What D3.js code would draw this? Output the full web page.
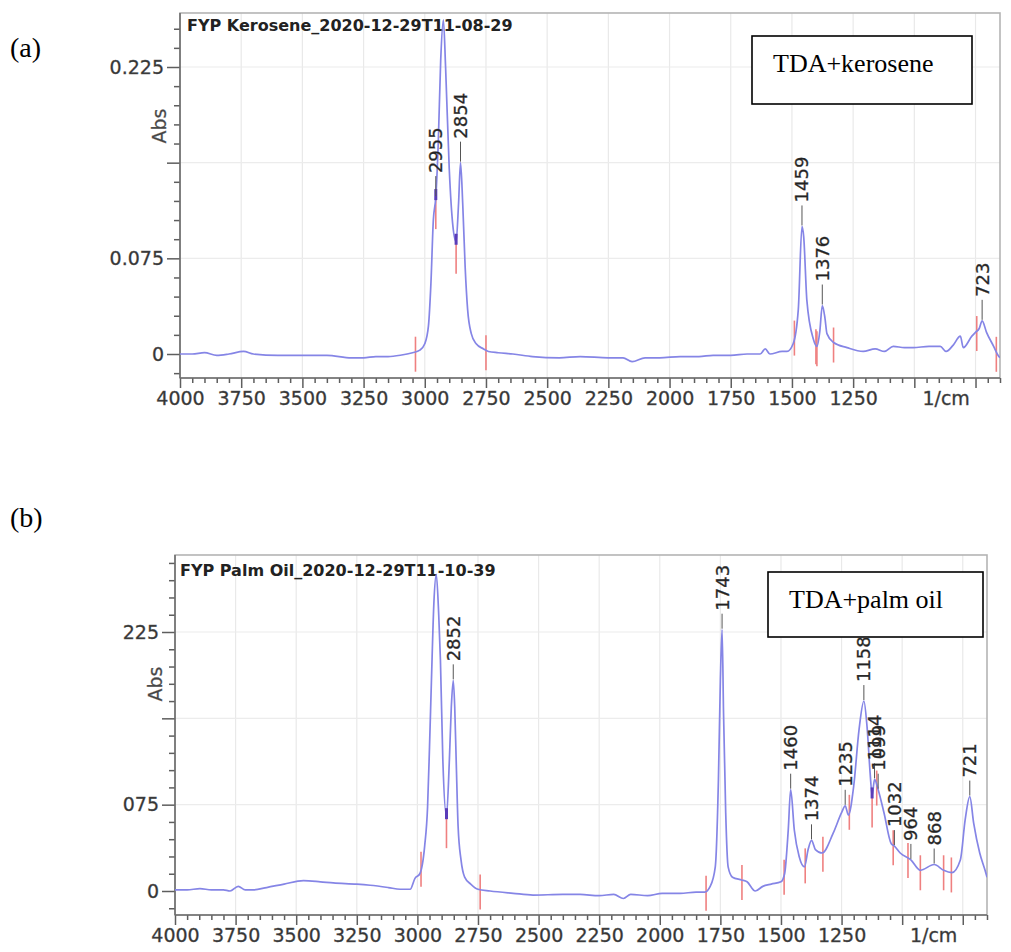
<!DOCTYPE html>
<html lang="en">
<head>
<meta charset="utf-8">
<title>FTIR spectra TDA</title>
<script src="https://d3js.org/d3.v7.min.js"></script>
<style>
  body{margin:0;background:#fff;}
  svg text{font-family:"DejaVu Sans",sans-serif;}
</style>
</head>
<body>
<div id="chart"></div>
<script>
// ---- (a) TDA + kerosene : wavenumber (1/cm) and absorbance
var keroWn = [4000,3950,3900,3850,3800,3740,3700,3600,3500,3400,
              3300,3250,3200,3150,3100,3050,3020,3000,2985,2975,
              2965,2955,2945,2935,2924,2915,2900,2885,2872,2862,
              2854,2845,2835,2825,2810,2790,2760,2740,2700,2640,
              2560,2450,2365,2250,2190,2153,2100,2040,1957,1880,
              1822,1750,1683,1630,1609,1590,1540,1520,1495,1474,
              1459,1452,1439,1413,1398,1386,1376,1365,1357,1330,
              1275,1209,1160,1122,1086,1040,1005,940,894,870,
              841,812,800,765,750,735,723,705,676,658,
              650]
var keroAbs = [0.000,0.000,0.001,-0.001,0.000,0.002,0.000,-0.001,-0.001,-0.001,
               -0.003,-0.003,-0.002,-0.002,-0.001,0.001,0.003,0.008,0.022,0.055,
               0.105,0.123,0.165,0.230,0.262,0.225,0.145,0.100,0.088,0.118,
               0.150,0.118,0.068,0.035,0.016,0.008,0.004,0.002,0.001,0.000,
               -0.002,-0.003,-0.002,-0.003,-0.003,-0.006,-0.003,-0.003,-0.002,-0.002,
               -0.001,-0.001,0.000,0.000,0.004,0.000,0.002,0.002,0.008,0.035,
               0.100,0.092,0.042,0.012,0.006,0.018,0.038,0.028,0.016,0.009,
               0.005,0.002,0.004,0.002,0.006,0.005,0.005,0.006,0.006,0.002,
               0.007,0.014,0.005,0.014,0.017,0.020,0.026,0.017,0.006,-0.001,
               -0.003]
var keroPeaks = [2955,2854,1459,1376,723]
var keroMarks = [3038,2750,1490,1402,1398,1330,745,665]
var keroDips = [2955,2872]

// ---- (b) TDA + palm oil
var palmWn = [4000,3950,3897,3850,3800,3773,3739,3710,3677,3622,
              3550,3470,3400,3347,3250,3195,3120,3071,3030,3010,
              2990,2970,2958,2950,2942,2932,2922,2912,2905,2895,
              2880,2868,2860,2852,2846,2840,2832,2820,2805,2780,
              2750,2700,2605,2523,2400,2329,2250,2190,2150,2120,
              2050,1990,1916,1850,1815,1792,1771,1758,1750,1743,
              1737,1728,1718,1700,1662,1640,1606,1575,1540,1500,
              1485,1470,1460,1445,1425,1403,1388,1374,1358,1330,
              1285,1250,1235,1222,1200,1178,1158,1145,1132,1124,
              1114,1099,1075,1045,1032,1008,964,925,868,829,
              795,760,740,721,705,680,658,650]
var palmAbs = [0.001,0.001,0.002,0.001,0.001,0.000,0.004,0.001,0.001,0.003,
               0.006,0.009,0.008,0.007,0.006,0.005,0.003,0.0015,0.0015,0.011,
               0.015,0.039,0.073,0.125,0.183,0.250,0.275,0.240,0.201,0.114,
               0.065,0.114,0.160,0.183,0.160,0.114,0.056,0.027,0.012,0.006,
               0.0015,0.000,-0.002,-0.0035,-0.003,-0.003,-0.004,-0.003,-0.0065,-0.003,
               -0.004,-0.002,-0.002,-0.001,-0.001,0.004,0.021,0.097,0.183,0.227,
               0.155,0.068,0.021,0.012,0.0096,0.008,0.000,0.004,0.006,0.008,
               0.015,0.053,0.088,0.053,0.030,0.021,0.036,0.044,0.036,0.033,
               0.050,0.068,0.074,0.066,0.091,0.140,0.165,0.143,0.102,0.083,
               0.097,0.088,0.068,0.041,0.039,0.033,0.027,0.018,0.023,0.018,
               0.016,0.027,0.062,0.082,0.059,0.033,0.018,0.012]
var palmPeaks = [2852,1743,1460,1374,1235,1158,1114,1099,1032,964,868,721]
var palmMarks = [2985,2741,1809,1661,1487,1400,1327,1218,1105,1037,976,925,829,797]
var palmDips = [2880,1124]

// ---- axes
var xMajor = [4000,3750,3500,3250,3000,2750,2500,2250,2000,1750,1500,1250,1000,750]
var xTickLabels = ["4000","3750","3500","3250","3000","2750","2500","2250","2000","1750","1500","1250","",""]
var yMajor = [0,0.075,0.15,0.225]
var yLabelsA = ["0","0.075","","0.225"]
var yLabelsB = ["0","075","","225"]

var svg = d3.select("#chart").append("svg")
            .attr("width",1011)
            .attr("height",952)
svg.append("rect").attr("width",1011).attr("height",952).attr("fill","#fff")

function drawPanel(p){
    var x = d3.scaleLinear().domain([4000,650]).range([p.left,p.right])
    var y = d3.scaleLinear().domain([0,0.225]).range([p.zeroY,p.y225])
    var vAt = d3.scaleLinear().domain(p.wn).range(p.abs)
    var g = svg.append("g")

    g.append("clipPath").attr("id","clip"+p.id)
        .append("rect")
        .attr("x",p.left).attr("y",p.top)
        .attr("width",p.right-p.left).attr("height",p.bottom-p.top)

    // grid
    g.append("g").selectAll("line").data(xMajor.slice(1)).join("line")
        .attr("x1",function(d){return x(d)}).attr("x2",function(d){return x(d)})
        .attr("y1",p.top).attr("y2",p.bottom)
        .attr("stroke","#e9e9e9").attr("stroke-width",1.2)
    g.append("g").selectAll("line").data(yMajor.slice(1)).join("line")
        .attr("y1",function(d){return y(d)}).attr("y2",function(d){return y(d)})
        .attr("x1",p.left).attr("x2",p.right)
        .attr("stroke","#ececec").attr("stroke-width",1.2)

    // frame
    g.append("rect")
        .attr("x",p.left).attr("y",p.top)
        .attr("width",p.right-p.left).attr("height",p.bottom-p.top)
        .attr("fill","none").attr("stroke","#b4b4b4").attr("stroke-width",1.6)

    // x axis
    var xMinor = d3.range(4000,649,-50).filter(function(v){return v%250!=0})
    g.append("g").attr("transform","translate(0,"+p.bottom+")")
        .call(d3.axisBottom(x).tickValues(xMinor).tickSize(5).tickFormat(""))
        .call(styleAxis)
    g.append("g").attr("transform","translate(0,"+p.bottom+")")
        .call(d3.axisBottom(x).tickValues(xMajor).tickSize(10).tickPadding(4)
              .tickFormat(function(d,i){return xTickLabels[i]}))
        .call(styleAxis)
    g.append("text").attr("x",x(870)).attr("y",p.bottom+14)
        .attr("dy","0.71em").attr("text-anchor","middle")
        .attr("font-size",19).attr("fill","#333")
        .attr("stroke","#555").attr("stroke-width",0.35)
        .text("1/cm")

    // y axis
    var yTop = y.invert(p.top)
    var yMinor = d3.range(-1,21).map(function(i){return i*0.015})
        .filter(function(v){return v<=yTop && Math.abs(v/0.075-Math.round(v/0.075))>0.01})
    g.append("g").attr("transform","translate("+p.left+",0)")
        .call(d3.axisLeft(y).tickValues(yMinor).tickSize(6).tickFormat(""))
        .call(styleAxis)
    g.append("g").attr("transform","translate("+p.left+",0)")
        .call(d3.axisLeft(y).tickValues(yMajor).tickSize(13).tickPadding(3)
              .tickFormat(function(d,i){return p.yLabels[i]}))
        .call(styleAxis)

    g.append("line").attr("x1",p.left).attr("x2",p.left).attr("y1",p.top).attr("y2",p.bottom)
        .attr("stroke","#6e6e6e").attr("stroke-width",1.6)
    g.append("line").attr("x1",p.left).attr("x2",p.right).attr("y1",p.bottom).attr("y2",p.bottom)
        .attr("stroke","#6e6e6e").attr("stroke-width",1.6)

    g.append("text")
        .attr("transform","translate("+p.absX+","+p.absY+") rotate(-90)")
        .attr("text-anchor","middle").attr("dy","0.35em")
        .attr("font-size",19).attr("fill","#444")
        .attr("stroke","#666").attr("stroke-width",0.3)
        .text("Abs")

    // title
    g.append("text").attr("x",p.titleX).attr("y",p.titleY)
        .attr("font-size",16).attr("font-weight","bold").attr("fill","#222")
        .text(p.title)

    // spectrum
    var pts = p.wn.map(function(w,i){return [w,p.abs[i]]})
    var line = d3.line()
        .x(function(d){return x(d[0])})
        .y(function(d){return y(d[1])})
        .curve(d3.curveMonotoneX)
    var spec = g.append("g").attr("clip-path","url(#clip"+p.id+")")

    // baseline / valley markers
    spec.selectAll("line.mark").data(p.marks).join("line").attr("class","mark")
        .attr("x1",function(d){return x(d)}).attr("x2",function(d){return x(d)})
        .attr("y1",function(d){return y(vAt(d))-15})
        .attr("y2",function(d){return y(vAt(d))+20})
        .attr("stroke","#ef8080").attr("stroke-width",1.6)
    spec.selectAll("line.dip").data(p.dips).join("line").attr("class","dip")
        .attr("x1",function(d){return x(d)}).attr("x2",function(d){return x(d)})
        .attr("y1",function(d){return y(vAt(d))})
        .attr("y2",function(d){return y(vAt(d))+32})
        .attr("stroke","#ef8080").attr("stroke-width",1.6)

    spec.append("path").datum(pts)
        .attr("d",line)
        .attr("fill","none")
        .attr("stroke","#8585e6")
        .attr("stroke-width",1.7)

    spec.selectAll("line.dipdot").data(p.dips).join("line").attr("class","dipdot")
        .attr("x1",function(d){return x(d)}).attr("x2",function(d){return x(d)})
        .attr("y1",function(d){return y(vAt(d))-8})
        .attr("y2",function(d){return y(vAt(d))+3})
        .attr("stroke","#5a3cb8").attr("stroke-width",3)

    // sample legend box
    g.append("rect").attr("x",p.box[0]).attr("y",p.box[1])
        .attr("width",p.box[2]).attr("height",p.box[3])
        .attr("fill","#fff").attr("stroke","#000").attr("stroke-width",1.6)
    g.append("text").attr("x",p.box[0]+21).attr("y",p.box[1]+36)
        .style("font-family","'Liberation Serif','Times New Roman',serif")
        .attr("font-size",26).attr("fill","#000").text(p.legend)

    // peak labels
    var pk = g.append("g")
    pk.selectAll("line").data(p.peaks).join("line")
        .attr("x1",function(d){return x(d)}).attr("x2",function(d){return x(d)})
        .attr("y1",function(d){return y(vAt(d))-1})
        .attr("y2",function(d){return y(vAt(d))-p.gap+3})
        .attr("stroke","#555").attr("stroke-width",1)
    pk.selectAll("text").data(p.peaks).join("text")
        .attr("transform",function(d){return "translate("+x(d)+","+(y(vAt(d))-p.gap)+") rotate(-90)"})
        .attr("dy","0.36em")
        .attr("font-size",18).attr("fill","#222")
        .attr("stroke","#444").attr("stroke-width",0.35)
        .text(function(d){return d})

    g.append("text").attr("x",10).attr("y",p.letterY)
        .style("font-family","'Liberation Serif','Times New Roman',serif")
        .attr("font-size",28).attr("fill","#000").text(p.letter)
}

function styleAxis(sel){
    sel.attr("font-family","DejaVu Sans").attr("font-size",19)
    sel.select(".domain").remove()
    sel.selectAll(".tick line").attr("stroke","#5e5e5e").attr("stroke-width",1.5)
    sel.selectAll(".tick text").attr("fill","#333")
        .attr("stroke","#555").attr("stroke-width",0.35)
}

drawPanel({id:"a", wn:keroWn, abs:keroAbs, peaks:keroPeaks, marks:keroMarks, dips:keroDips,
           left:180, right:1000, top:13, bottom:378, zeroY:354, y225:67, gap:24,
           yLabels:yLabelsA, absX:159, absY:126,
           title:"FYP Kerosene_2020-12-29T11-08-29", titleX:187, titleY:31,
           box:[752,36,220,68], legend:"TDA+kerosene", letter:"(a)", letterY:57})

drawPanel({id:"b", wn:palmWn, abs:palmAbs, peaks:palmPeaks, marks:palmMarks, dips:palmDips,
           left:175, right:987, top:555, bottom:915, zeroY:891, y225:632, gap:19,
           yLabels:yLabelsB, absX:155, absY:684,
           title:"FYP Palm Oil_2020-12-29T11-10-39", titleX:180, titleY:576,
           box:[768,572,215,65], legend:"TDA+palm oil", letter:"(b)", letterY:527})
</script>
</body>
</html>
